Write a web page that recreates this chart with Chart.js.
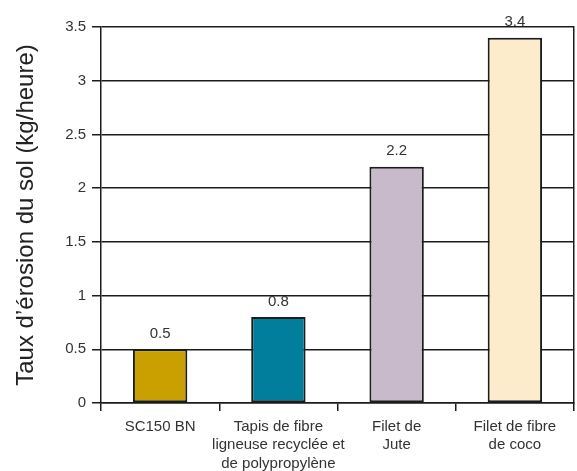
<!DOCTYPE html>
<html>
<head>
<meta charset="utf-8">
<script src="https://cdn.jsdelivr.net/npm/chart.js@4/dist/chart.umd.min.js"></script>
<style>
  html, body { margin: 0; padding: 0; background: #fff; }
  #wrap { width: 577px; height: 471px; }
</style>
</head>
<body>
<div id="wrap"><canvas id="c" width="577" height="471"></canvas></div>
<script>
// Erosion rate per erosion-control product
const categories = [
  ["SC150 BN"],
  ["Tapis de fibre", "ligneuse recyclée et", "de polypropylène"],
  ["Filet de", "Jute"],
  ["Filet de fibre", "de coco"]
];
const erosionRates = [0.5, 0.8, 2.2, 3.4];
const valueLabels = ["0.5", "0.8", "2.2", "3.4"];
const barColors = ["#C9A000", "#007E9B", "#C8BACB", "#FDECCB"];
const yTickValues = [0, 0.5, 1, 1.5, 2, 2.5, 3, 3.5];
const yTitle = "Taux d’érosion du sol (kg/heure)";

const lineColor = "#1c1c1c";
const textColor = "#333333";
const fontFamily = "'Liberation Sans', Arial, sans-serif";

// Draws the value above each bar
const valueLabelPlugin = {
  id: "valueLabels",
  afterDatasetsDraw(chart) {
    const ctx = chart.ctx;
    const meta = chart.getDatasetMeta(0);
    ctx.save();
    ctx.font = "15px " + fontFamily;
    ctx.fillStyle = textColor;
    ctx.textAlign = "center";
    ctx.textBaseline = "bottom";
    meta.data.forEach((bar, i) => {
      ctx.fillText(valueLabels[i], bar.x, bar.y - 8);
    });
    ctx.restore();
  }
};

new Chart(document.getElementById("c"), {
  type: "bar",
  data: {
    labels: categories,
    datasets: [{
      data: erosionRates,
      backgroundColor: barColors,
      borderColor: lineColor,
      borderWidth: 2,
      borderSkipped: false,
      categoryPercentage: 1,
      barPercentage: 0.46
    }]
  },
  options: {
    responsive: false,
    animation: false,
    devicePixelRatio: 1,
    layout: { padding: { top: 27, left: 0, right: 0, bottom: 0 } },
    plugins: {
      legend: { display: false },
      tooltip: { enabled: false }
    },
    scales: {
      x: {
        grid: {
          display: true,
          offset: true,
          drawOnChartArea: false,
          drawTicks: true,
          tickLength: 8,
          color: lineColor,
          lineWidth: 1.5
        },
        border: { display: true, color: lineColor, width: 1.5 },
        ticks: {
          color: textColor,
          font: { family: fontFamily, size: 15, lineHeight: 1.25 },
          padding: 6,
          maxRotation: 0,
          autoSkip: false
        },
        afterFit(scale) { scale.height = 68; }
      },
      y: {
        min: 0,
        max: 3.5,
        afterBuildTicks(scale) {
          scale.ticks = yTickValues.map(v => ({ value: v }));
        },
        grid: {
          color: lineColor,
          lineWidth: 1.5,
          drawTicks: true,
          tickLength: 9
        },
        border: { display: true, color: lineColor, width: 1.5 },
        ticks: {
          color: textColor,
          font: { family: fontFamily, size: 15 },
          padding: 6,
          callback: v => String(v)
        },
        title: {
          display: true,
          text: yTitle,
          color: "#222",
          font: { family: fontFamily, size: 24 },
          padding: { top: 12, bottom: 0 }
        },
        afterFit(scale) { scale.width = 101; }
      },
      yRight: {
        position: "right",
        min: 0,
        max: 3.5,
        grid: { drawOnChartArea: false, drawTicks: false },
        border: { display: true, color: lineColor, width: 1.5 },
        ticks: { display: false },
        afterFit(scale) { scale.width = 3; }
      }
    }
  },
  plugins: [valueLabelPlugin]
});
</script>
</body>
</html>
